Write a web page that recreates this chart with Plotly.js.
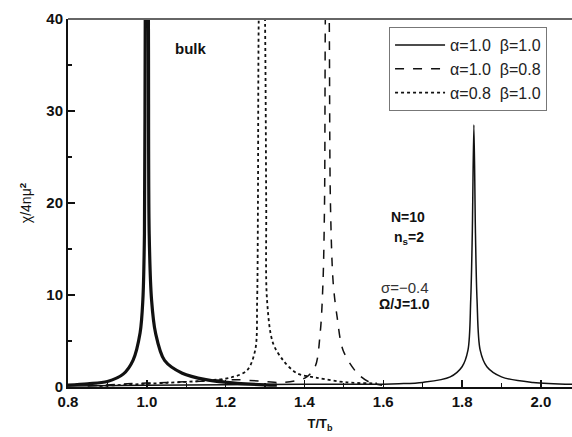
<!DOCTYPE html>
<html><head><meta charset="utf-8">
<script src="https://cdn.plot.ly/plotly-3.0.1.min.js"></script>
<style>html,body{margin:0;padding:0;background:#fff;overflow:hidden}</style>
</head><body><div id="chart" style="width:572px;height:437px"></div>
<script>
// bulk curve (thick, no legend entry)
const bulkX = [0.80,0.85,0.90,0.94,0.965,0.983,0.990,0.994,0.996,1.000,1.004,1.006,1.012,1.022,1.045,1.09,1.15,1.23,1.33];
const bulkY = [0.2,0.35,0.6,1.4,2.9,5.9,9.5,16.7,40,60,40,16.7,9.5,5.9,2.9,1.5,0.8,0.4,0.2];
// alpha=1.0 beta=1.0 (solid)
const s1X = [0.80,1.00,1.20,1.40,1.60,1.64,1.70,1.77,1.80,1.815,1.822,1.826,1.830,1.834,1.838,1.846,1.863,1.90,1.98,2.08];
const s1Y = [0.1,0.2,0.25,0.3,0.3,0.35,0.5,1.1,2.2,4.0,9.5,16.7,28.5,16.7,9.5,4.0,2.2,1.1,0.5,0.3];
// alpha=1.0 beta=0.8 (dashed)
const s2X = [0.85,0.95,1.05,1.15,1.22,1.30,1.346,1.402,1.427,1.440,1.447,1.451,1.453,1.458,1.463,1.466,1.473,1.483,1.498,1.534,1.566,1.597];
const s2Y = [0.1,0.35,0.5,0.65,0.8,0.6,0.5,1.0,2.2,5.9,11.3,20,40,60,40,20,11.3,7.6,4.0,1.5,0.5,0.2];
// alpha=0.8 beta=1.0 (dotted)
const s3X = [0.88,0.95,1.05,1.15,1.211,1.254,1.275,1.280,1.282,1.284,1.292,1.300,1.303,1.305,1.320,1.346,1.381,1.432,1.508,1.584];
const s3Y = [0.1,0.25,0.45,0.7,1.0,1.8,4.0,9.5,20,40,60,40,20,9.5,4.8,2.9,1.5,1.0,0.5,0.4];
const seriesNames = ['α=1.0\u00a0\u00a0β=1.0','α=1.0\u00a0\u00a0β=0.8','α=0.8\u00a0\u00a0β=1.0'];
const xTickVals = [0.8,1.0,1.2,1.4,1.6,1.8,2.0];
const yTickVals = [0,10,20,30,40];

const ink = '#111';
const sm = 0.9;
const traces = [
  {x: bulkX, y: bulkY, mode:'lines', line:{color:ink, width:3.2, shape:'spline', smoothing:sm}, showlegend:false, hoverinfo:'skip'},
  {x: s1X, y: s1Y, mode:'lines', name: seriesNames[0], legendgroup:'a', line:{color:ink, width:1.5, shape:'spline', smoothing:sm}},
  {x: s2X, y: s2Y, mode:'lines', name: seriesNames[1], legendgroup:'b', line:{color:ink, width:1.5, dash:'dash', shape:'spline', smoothing:sm}},
  {x: s3X, y: s3Y, mode:'lines', name: seriesNames[2], legendgroup:'c', line:{color:ink, width:1.8, dash:'dot', shape:'spline', smoothing:sm}}
];
const F = 'Liberation Sans, Arial, sans-serif';
const layout = {
  width:572, height:437,
  margin:{l:68, r:0, t:19, b:50},
  paper_bgcolor:'#fff', plot_bgcolor:'#fff',
  font:{family:F, color:ink},
  showlegend:true,
  legend:{x:0.637, y:0.978, xanchor:'left', yanchor:'top', bgcolor:'#fff', bordercolor:'#777', borderwidth:1,
          font:{family:F, size:16, color:'#222'}, tracegroupgap:6, traceorder:'normal', itemwidth:50},
  xaxis:{range:[0.8, 2.079], tickvals:xTickVals, ticktext:xTickVals.map(v=>v.toFixed(1)),
         ticks:'inside', ticklen:7, tickwidth:1.5, tickcolor:ink,
         minor:{dtick:0.1, tick0:0.8, ticks:'inside', ticklen:4, tickwidth:1.2, tickcolor:ink, showgrid:false},
         showline:true, linecolor:ink, linewidth:2, mirror:false, showgrid:false, zeroline:false,
         tickfont:{family:F, size:15, color:ink, weight:'bold'},
         title:{text:'<b>T/T<sub>b</sub></b>', font:{family:F, size:13, color:ink}, standoff:10}},
  yaxis:{range:[0,40], tickvals:yTickVals,
         ticks:'inside', ticklen:7, tickwidth:1.5, tickcolor:ink,
         minor:{dtick:5, tick0:0, ticks:'inside', ticklen:4, tickwidth:1.2, tickcolor:ink, showgrid:false},
         showline:true, linecolor:ink, linewidth:2, showgrid:false, zeroline:false,
         tickfont:{family:F, size:15, color:ink, weight:'bold'},
         title:{text:'χ/4nμ<sup><b>2</b></sup>', font:{family:F, size:14, color:ink}, standoff:11}},
  shapes:[{type:'line', xref:'paper', yref:'paper', x0:0, x1:1, y0:1, y1:1, line:{color:'#666', width:2}}],
  annotations:[
    {x:1.110, y:36.8, xref:'x', yref:'y', text:'<b>bulk</b>', showarrow:false, font:{family:F, size:15, color:ink}},
    {x:1.663, y:18.5, xref:'x', yref:'y', text:'<b>N=10</b>', showarrow:false, font:{family:F, size:14, color:ink}},
    {x:1.665, y:16.2, xref:'x', yref:'y', text:'<b>n<sub>s</sub>=2</b>', showarrow:false, font:{family:F, size:14, color:ink}},
    {x:1.655, y:10.8, xref:'x', yref:'y', text:'σ=−0.4', showarrow:false, font:{family:F, size:15, color:'#333'}},
    {x:1.655, y:9.0, xref:'x', yref:'y', text:'<b>Ω/J=1.0</b>', showarrow:false, font:{family:F, size:14, color:ink}}
  ]
};
Plotly.newPlot('chart', traces, layout, {displayModeBar:false, staticPlot:true});
</script></body></html>
